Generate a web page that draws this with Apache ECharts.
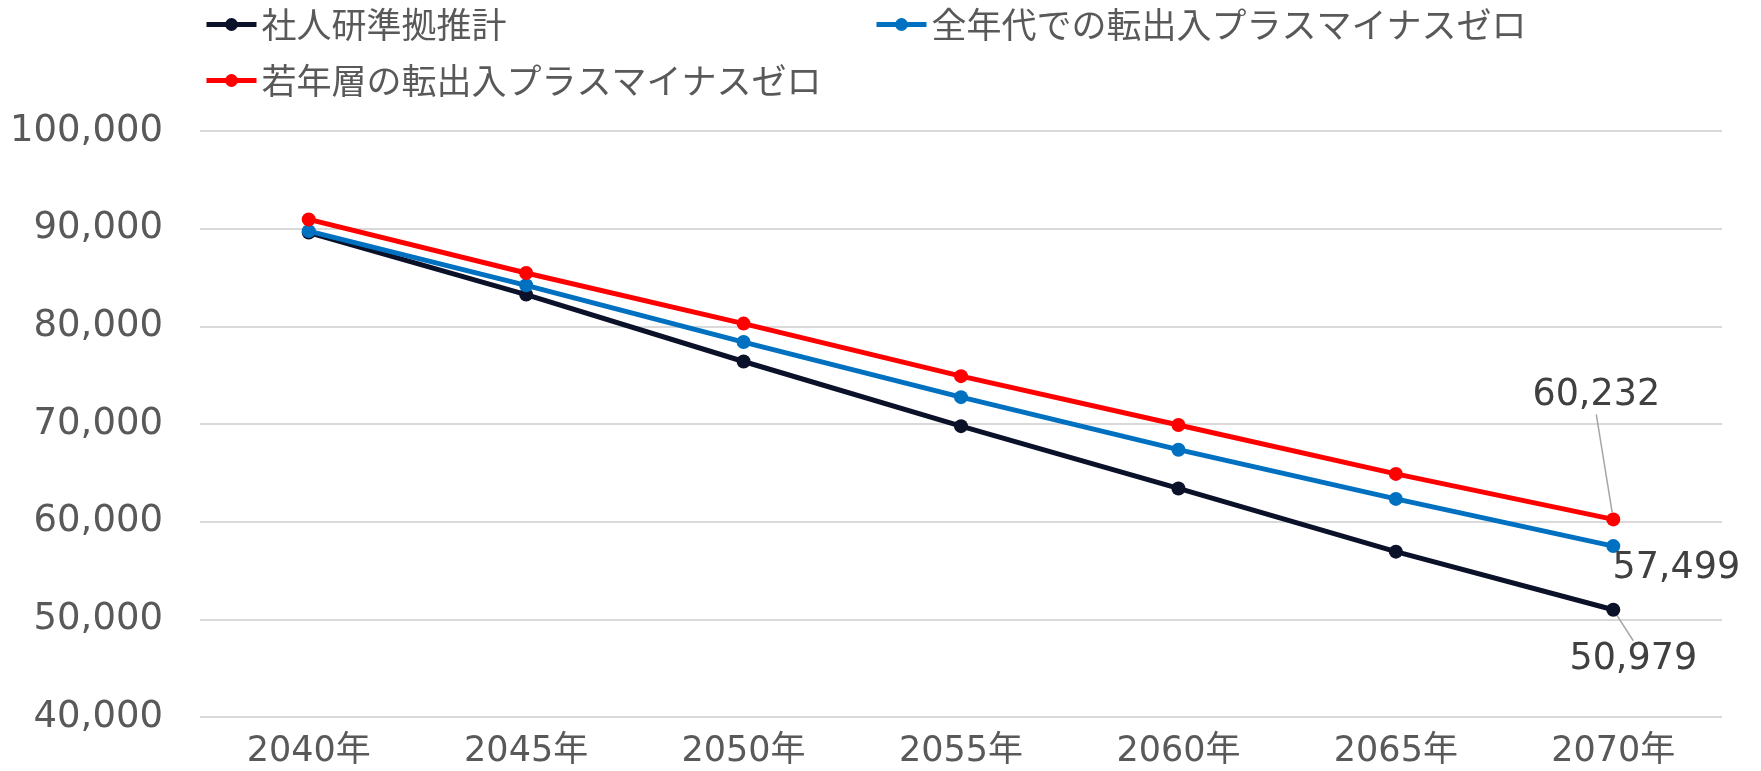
<!DOCTYPE html>
<html>
<head>
<meta charset="utf-8">
<script src="https://cdn.jsdelivr.net/npm/echarts@6/dist/echarts.min.js"></script>
<style>
  html, body { margin: 0; padding: 0; background: #ffffff; }
  #chart { width: 1761px; height: 771px; }
</style>
</head>
<body>
<div id="chart"></div>
<script>
// 推計年
const categories = ['2040年', '2045年', '2050年', '2055年', '2060年', '2065年', '2070年'];

// 系列名
const seriesNames = ['社人研準拠推計', '全年代での転出入プラスマイナスゼロ', '若年層の転出入プラスマイナスゼロ'];

// 人口推計値
const baseline = [89600, 83250, 76400, 69780, 63400, 56930, 50979];
const allAgesZero = [89750, 84200, 78390, 72750, 67370, 62330, 57499];
const youthZero = [90950, 85460, 80280, 74900, 69900, 64890, 60232];

// 縦軸目盛
const yTicks = [40000, 50000, 60000, 70000, 80000, 90000, 100000];

const colors = ['#0a1128', '#0070c0', '#ff0000'];
const numFont = 'DejaVu Sans';
const jpFont = 'Noto Sans CJK JP';

function fmt(v) {
  return String(v).replace(/\B(?=(\d{3})+(?!\d))/g, ',');
}

// 最終年のみ数値ラベルを表示
function withLastLabel(values) {
  return values.map((v, i) => i === values.length - 1
    ? { value: v, label: { show: true } }
    : v);
}

// ラベル位置（最終点からのずらし量）
const labelSetups = [
  { position: 'bottom', dx: 20, dy: 19, line: true },
  { position: 'bottom', dx: 63, dy: -8, line: false },
  { position: 'top', dx: -17, dy: -93, line: true }
];

const seriesData = [baseline, allAgesZero, youthZero];

const chart = echarts.init(document.getElementById('chart'));

function legendFor(name, left, top) {
  return {
    data: [name],
    left: left,
    top: top,
    padding: 0,
    itemWidth: 50,
    itemHeight: 16,
    itemGap: 0,
    lineStyle: { width: 5 },
    textStyle: { fontFamily: jpFont, fontSize: 35, color: '#595959' }
  };
}

chart.setOption({
  animation: false,
  backgroundColor: '#ffffff',
  legend: [
    legendFor(seriesNames[0], 204, 7),
    legendFor(seriesNames[1], 874, 7),
    legendFor(seriesNames[2], 204, 63)
  ],
  grid: { left: 200, right: 39, top: 131, bottom: 54 },
  xAxis: {
    type: 'category',
    data: categories,
    boundaryGap: true,
    axisLine: { show: false },
    axisTick: { show: false },
    axisLabel: { fontFamily: numFont + ', ' + jpFont, fontSize: 35, color: '#595959', margin: 17 }
  },
  yAxis: {
    type: 'value',
    min: yTicks[0],
    max: yTicks[yTicks.length - 1],
    interval: yTicks[1] - yTicks[0],
    axisLine: { show: false },
    axisTick: { show: false },
    splitLine: { lineStyle: { color: '#d9d9d9', width: 2 } },
    axisLabel: {
      fontFamily: numFont, fontSize: 37, color: '#595959', margin: 37,
      formatter: v => fmt(v)
    }
  },
  series: seriesData.map((vals, i) => ({
    name: seriesNames[i],
    type: 'line',
    data: withLastLabel(vals),
    color: colors[i],
    symbol: 'circle',
    symbolSize: 14,
    lineStyle: { width: 5, color: colors[i] },
    itemStyle: { color: colors[i] },
    z: 2 + i,
    label: {
      show: false,
      position: labelSetups[i].position,
      fontFamily: numFont,
      fontSize: 36.5,
      color: '#404040',
      formatter: p => fmt(p.value)
    },
    labelLayout: { dx: labelSetups[i].dx, dy: labelSetups[i].dy },
    labelLine: {
      show: labelSetups[i].line,
      lineStyle: { color: '#a6a6a6', width: 1.5 }
    }
  }))
});
</script>
</body>
</html>
